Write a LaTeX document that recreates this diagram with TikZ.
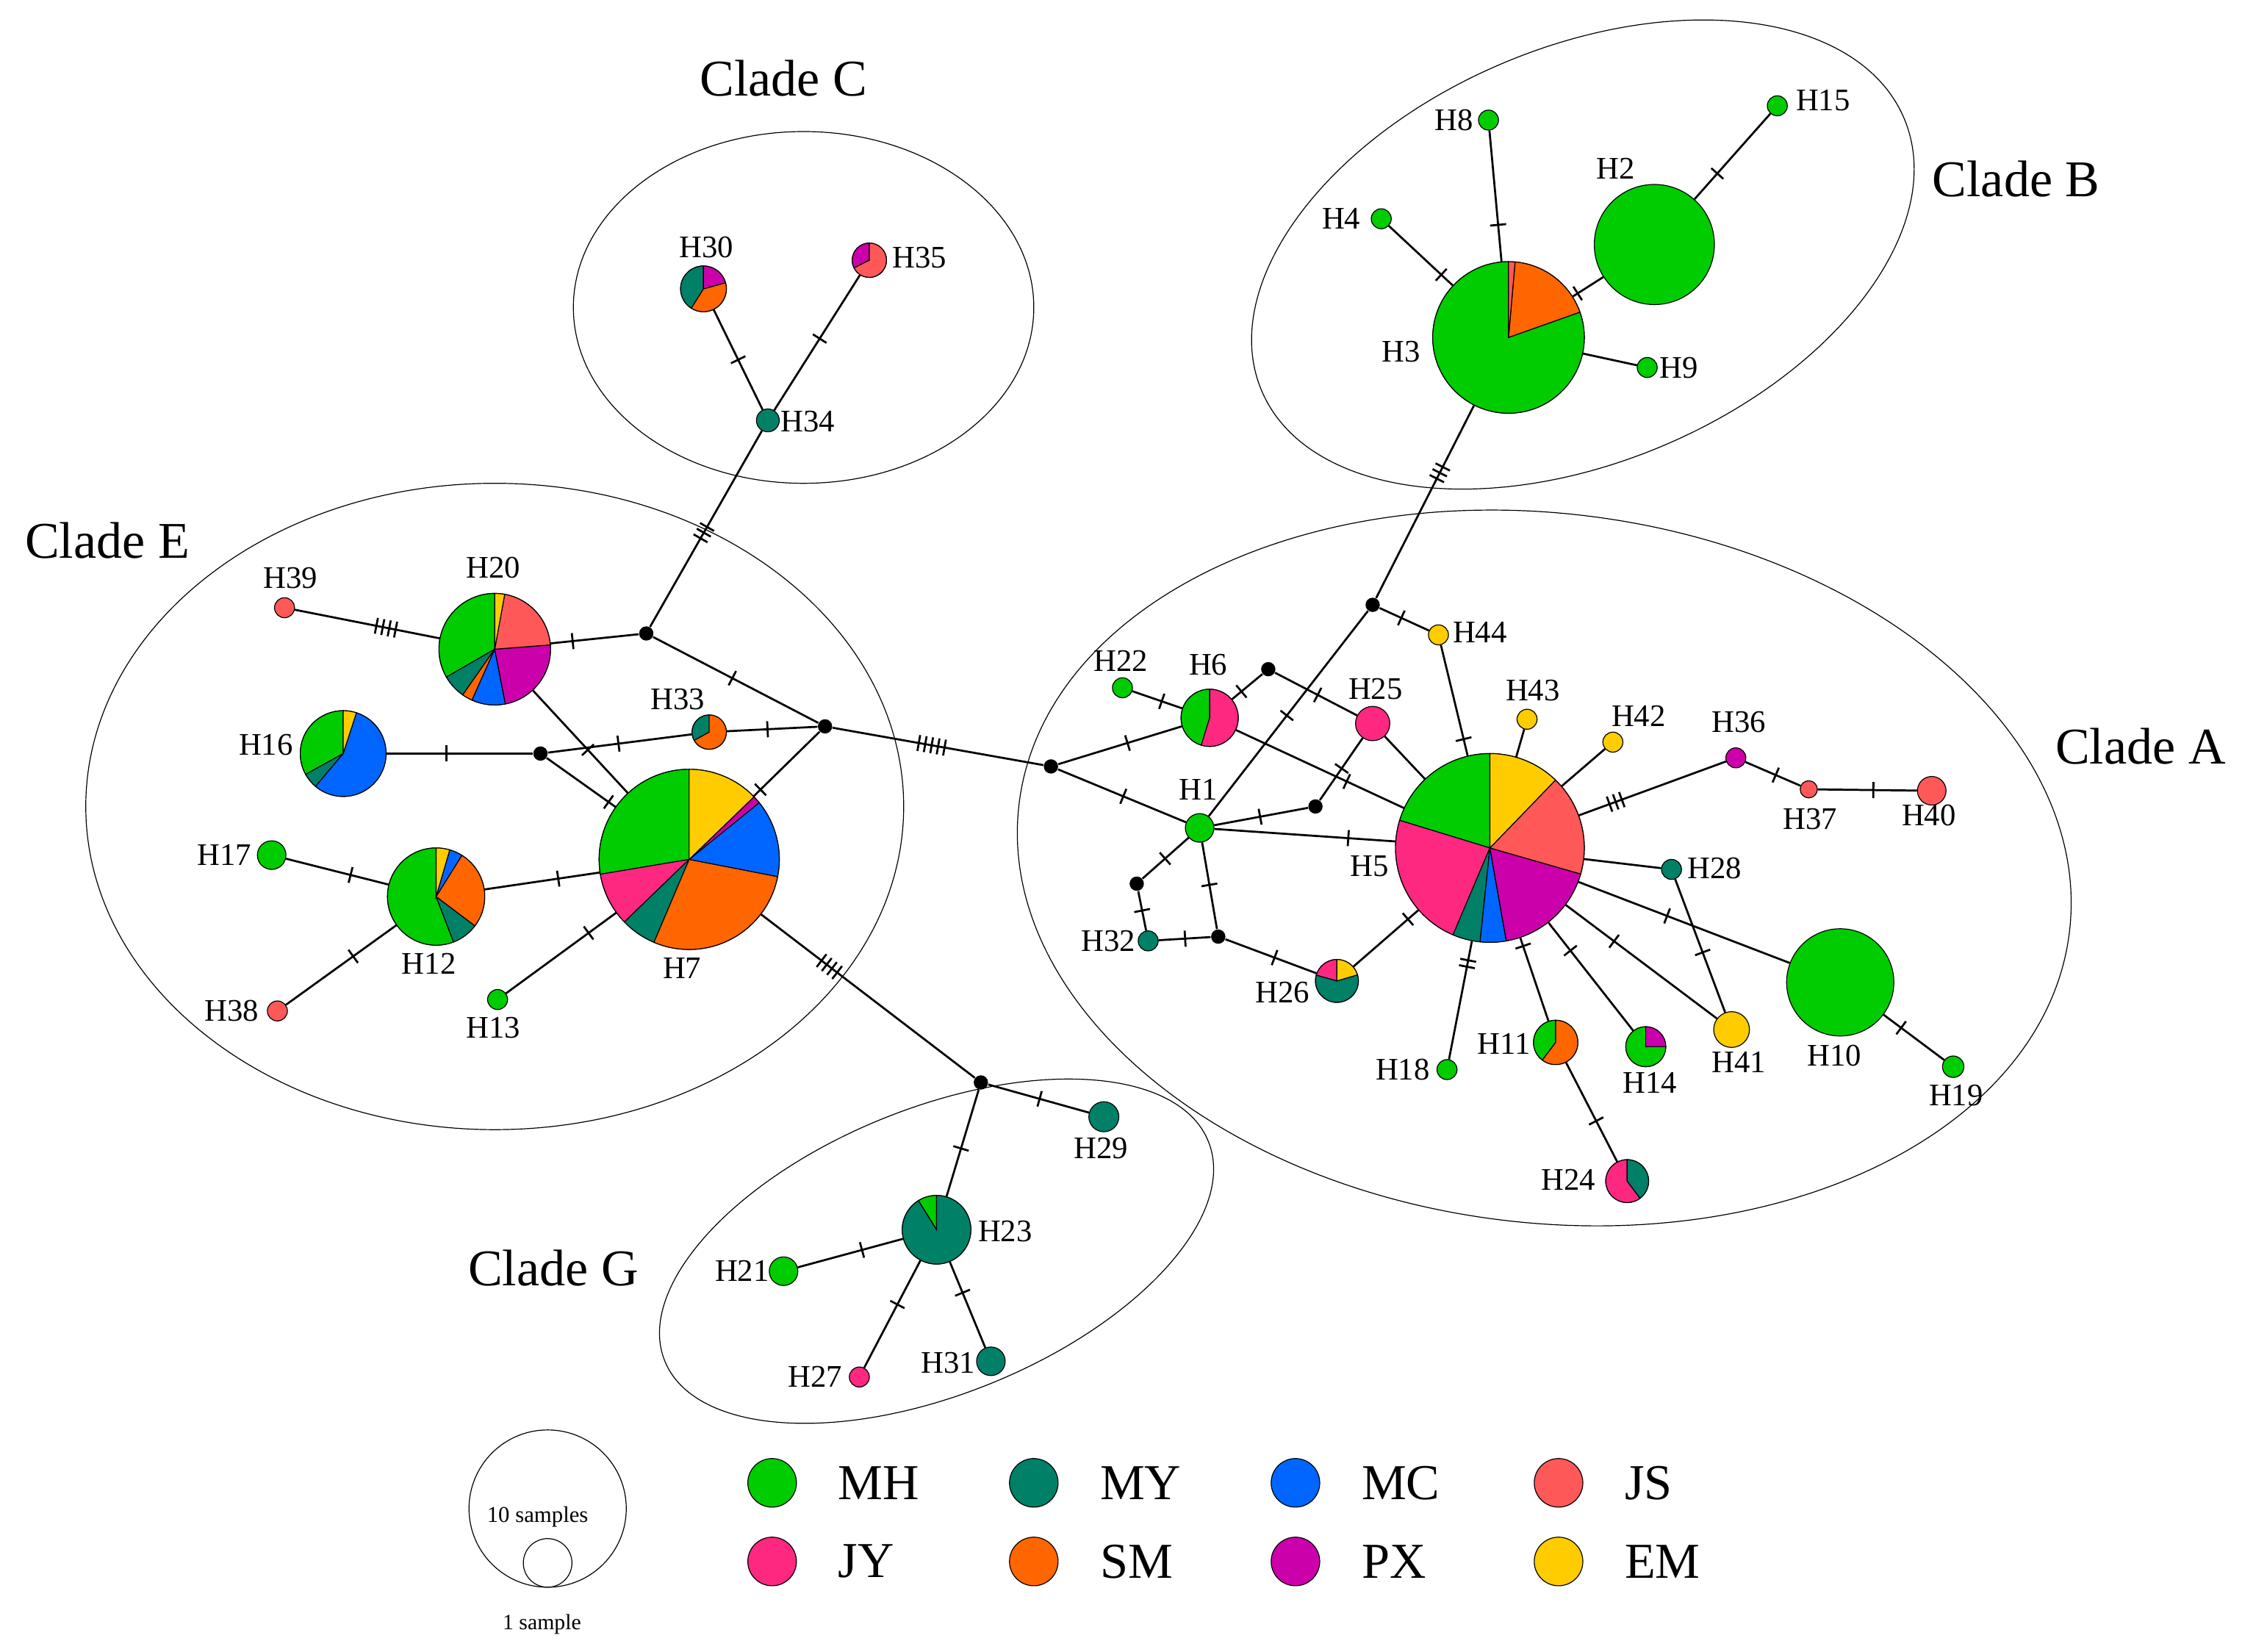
\documentclass[tikz,border=0pt]{standalone}
\usepackage{fontspec}
\setmainfont{Liberation Serif}
\usetikzlibrary{decorations.markings}

\definecolor{MH}{RGB}{0,204,0}
\definecolor{MY}{RGB}{0,128,102}
\definecolor{MC}{RGB}{0,102,255}
\definecolor{JS}{RGB}{255,88,88}
\definecolor{JY}{RGB}{255,40,128}
\definecolor{SM}{RGB}{255,102,0}
\definecolor{PX}{RGB}{204,0,170}
\definecolor{EM}{RGB}{255,204,0}

% pie on a node: name, radius, colour/start/end
\newcommand{\hpie}[3]{\pgfmathsetlengthmacro\piecr{#2*0.2mm}%
  \foreach \c/\s/\e in {#3} {\filldraw[fill=\c, line width=0.35pt] (#1.center) -- ++(\s:\piecr) arc[start angle=\s, end angle=\e, radius=\piecr] -- cycle;}}

\begin{document}
\begin{tikzpicture}[x=0.2mm, y=-0.2mm,
    hap/.style={circle, draw, line width=0.35pt, inner sep=0pt, minimum size=#1*0.4mm},
    hub/.style={circle, fill=black, inner sep=0pt, minimum size=2mm},
    link/.style={line width=0.8pt},
    mut/.style 2 args={postaction={decorate, decoration={markings, mark=at position #2 with {\foreach \k in {1,...,#1} {\draw[line width=0.8pt] ({(\k-(#1+1)/2)*2.6pt},-3.2pt) -- ++(0,6.4pt);}}}}},
    clade/.style={line width=0.35pt},
    lab/.style={font=\fontsize{12.5}{14}\selectfont, inner sep=0pt},
    ttl/.style={font=\fontsize{20.5}{24}\selectfont, inner sep=0pt}]
\useasboundingbox (0,0) rectangle (1568,1155);

% clades
\draw[clade] (562,215) ellipse [x radius=3.22cm, y radius=2.46cm];
\draw[clade, rotate around={23:(1107,178)}] (1107,178) ellipse [x radius=4.88cm, y radius=2.9cm];
\draw[clade, rotate around={-7:(1080,607)}] (1080,607) ellipse [x radius=7.4cm, y radius=4.96cm];
\draw[clade] (346,564) ellipse [x radius=5.72cm, y radius=4.52cm];
\draw[clade, rotate around={22:(655,875)}] (655,875) ellipse [x radius=4.1cm, y radius=2.0cm];
\node[ttl] (cC) at (548,55) {Clade C};
\node[ttl] (cB) at (1410,125) {Clade B};
\node[ttl] (cE) at (75,378) {Clade E};
\node[ttl] (cA) at (1497,522) {Clade A};
\node[ttl] (cG) at (387,887) {Clade G};

% median vectors
\foreach \n/\x/\y in {jE1/452/443, jE2/577/508, jE3/378/527, jA1/960/423, jA2/735/536,
    jA3/887/468, jA4/920/564, jA5/795/618, jA6/852/655, jG/686/757}
  \node[hub] (\n) at (\x,\y) {};

% one-colour haplotypes
\foreach \n/\x/\y/\r/\c in {H34/537/294/8/MY, H2/1157/171/42/MH, H8/1041/84/7/MH, H4/966/153/7/MH,
    H15/1243/74/7/MH, H9/1152/257/7/MH, H39/199/425/7/JS, H17/190/598/10/MH, H38/194/707/7/JS,
    H13/348/699/7/MH, H29/772/781/10.5/MY, H21/548/889/10/MH, H27/601/963/7/JY, H31/693/952/10/MY,
    H22/785/481/7/MH, H1/839/579/10/MH, H25/960/506/12/JY, H44/1006/444/7/EM, H43/1068/503/7/EM,
    H42/1128/519/7/EM, H36/1214/530/7/PX, H37/1265/552/6/JS, H40/1351/553/10/JS, H28/1169/608/7/MY,
    H41/1211/720/12.5/EM, H10/1287/687/37.5/MH, H19/1366/746/7.5/MH, H18/1012/748/7/MH, H32/803/658/7/MY}
  \node[hap=\r, fill=\c] (\n) at (\x,\y) {};

% pies
\node[hap=63] (H7) at (482,601) {};
\hpie{H7}{63}{MH/90/189.5, JY/189.5/224, MY/224/247, SM/247/349, MC/349/399, PX/399/404, EM/404/450}
\node[hap=66] (H5) at (1042,593) {};
\hpie{H5}{66}{MH/90/163, JY/163/247, MY/247/264, MC/264/280, PX/280/344, JS/344/406, EM/406/450}
\node[hap=39] (H20) at (346,454) {};
\hpie{H20}{39}{MH/90/210, MY/210/235, SM/235/246, MC/246/281, PX/281/364.4, JS/364.4/439.7, EM/439.7/450}
\node[hap=30] (H16) at (240,527) {};
\hpie{H16}{30}{MH/90/209, MY/209/230, MC/230/432, EM/432/450}
\node[hap=34] (H12) at (305,627) {};
\hpie{H12}{34}{MH/90/291, MY/291/323, SM/323/418, MC/418/433.7, EM/433.7/450}
\node[hap=53] (H3) at (1055,236) {};
\hpie{H3}{53}{MH/90/379.5, SM/379.5/445, JS/445/450}
\node[hap=16] (H30) at (492,202) {};
\hpie{H30}{16}{MY/90/238, SM/238/375.5, PX/375.5/450}
\node[hap=12] (H35) at (608,182) {};
\hpie{H35}{12}{PX/90/206.6, JS/206.6/450}
\node[hap=12] (H33) at (496,512) {};
\hpie{H33}{12}{MY/90/209, SM/209/450}
\node[hap=20] (H6) at (846,502) {};
\hpie{H6}{20}{MH/90/253, JY/253/450}
\node[hap=15] (H26) at (935,686) {};
\hpie{H26}{15}{JY/90/164.5, MY/164.5/376.5, EM/376.5/450}
\node[hap=15.5] (H11) at (1088,729) {};
\hpie{H11}{15.5}{MH/90/233, SM/233/450}
\node[hap=14] (H14) at (1151,732) {};
\hpie{H14}{14}{MH/90/360, PX/360/450}
\node[hap=15] (H24) at (1138,826) {};
\hpie{H24}{15}{JY/90/307, MY/307/450}
\node[hap=24] (H23) at (655,860) {};
\hpie{H23}{24}{MH/90/122, MY/122/450}

% connections with mutation steps
\foreach \a/\b/\n/\p in {H30/H34/1/0.5, H35/H34/1/0.47, H34/jE1/3/0.52, H39/H20/4/0.63,
    H20/jE1/1/0.25, jE1/jE2/1/0.48, H20/H7/1/0.58, H16/jE3/1/0.41, jE3/H33/1/0.49,
    H33/jE2/1/0.45, jE2/H7/1/0.9, jE3/H7/1/0.9, H17/H12/1/0.63, H12/H7/1/0.64,
    H38/H12/1/0.61, H13/H7/1/0.75, H7/jG/4/0.32, jE2/jA2/5/0.47, jG/H29/1/0.51,
    jG/H23/1/0.55, H23/H21/1/0.39, H23/H27/1/0.41, H23/H31/1/0.36,
    H3/jA1/3/0.35, H8/H3/1/0.72, H4/H3/1/0.82, H2/H3/1/0.84, H15/H2/1/0.7,
    jA1/H44/1/0.44, jA1/H1/1/0.51, H44/H5/1/0.85, jA2/H6/1/0.56, jA2/H1/1/0.51,
    H22/H6/1/0.59, H6/jA3/1/0.31, jA3/H25/1/0.52, H6/H5/1/0.66, H1/jA4/1/0.49,
    jA4/H25/1/0.51, H1/H5/1/0.74, H1/jA5/1/0.51, jA5/H32/1/0.49, H1/jA6/1/0.49,
    H32/jA6/1/0.51, jA6/H26/1/0.54, H26/H5/1/0.84, H5/H18/2/0.19, H5/H11/1/0.1,
    H5/H14/1/0.26, H5/H41/1/0.32, H5/H10/1/0.42, H28/H41/1/0.55, H5/H36/3/0.25,
    H36/H37/1/0.55, H37/H40/1/0.56, H10/H19/1/0.29, H11/H24/1/0.59}
  \draw[link, mut={\n}{\p}] (\a) -- (\b);
\draw[link] (H9) -- (H3);
\draw[link] (H25) -- (H5);
\draw[link] (H5) -- (H28);
\draw[link] (H5) -- (H43);
\draw[link] (H5) -- (H42);

% haplotype names
\foreach \n/\x/\y in {H30/494/173, H35/643/180, H34/565/295, H8/1017/84, H4/938/153, H2/1130/118,
    H15/1275/70, H3/980/246, H9/1174/257, H39/203/404, H20/345/397, H16/186/521, H33/474/489,
    H17/157/598, H12/300/674, H13/345/719, H7/477/677, H38/162/707, H29/770/803, H23/703/861,
    H21/519/889, H27/570/963, H31/663/953, H22/784/462, H6/845/465, H25/962/482, H44/1035/442,
    H1/838/552, H43/1072/483, H42/1146/501, H36/1216/505, H37/1266/573, H40/1349/570, H28/1199/607,
    H5/958/606, H32/775/658, H26/897/694, H18/981/748, H11/1052/730, H14/1154/757, H41/1216/743,
    H10/1283/738, H19/1368/766, H24/1097/825}
  \node[lab] (t\n) at (\x,\y) {\n};

% legend
\node[hap=55] (s10) at (383,1055) {};
\node[hap=17] (s1) at (383,1093) {};
\node[font=\fontsize{9}{10}\selectfont, inner sep=0pt] (ts10) at (376,1061) {10 samples};
\node[font=\fontsize{8.7}{10}\selectfont, inner sep=0pt] (ts1) at (379,1136) {1 sample};
\foreach \c/\x/\y in {MH/540/1037, MY/723/1037, MC/906/1037, JS/1090/1037,
    JY/540/1092, SM/723/1092, PX/906/1092, EM/1090/1092} {
  \node[hap=17, fill=\c] (k\c) at (\x,\y) {};
  \node[font=\fontsize{20}{24}\selectfont, inner sep=0pt, anchor=west] (tk\c) at (\x+46,\y) {\c};
}
\end{tikzpicture}
\end{document}
